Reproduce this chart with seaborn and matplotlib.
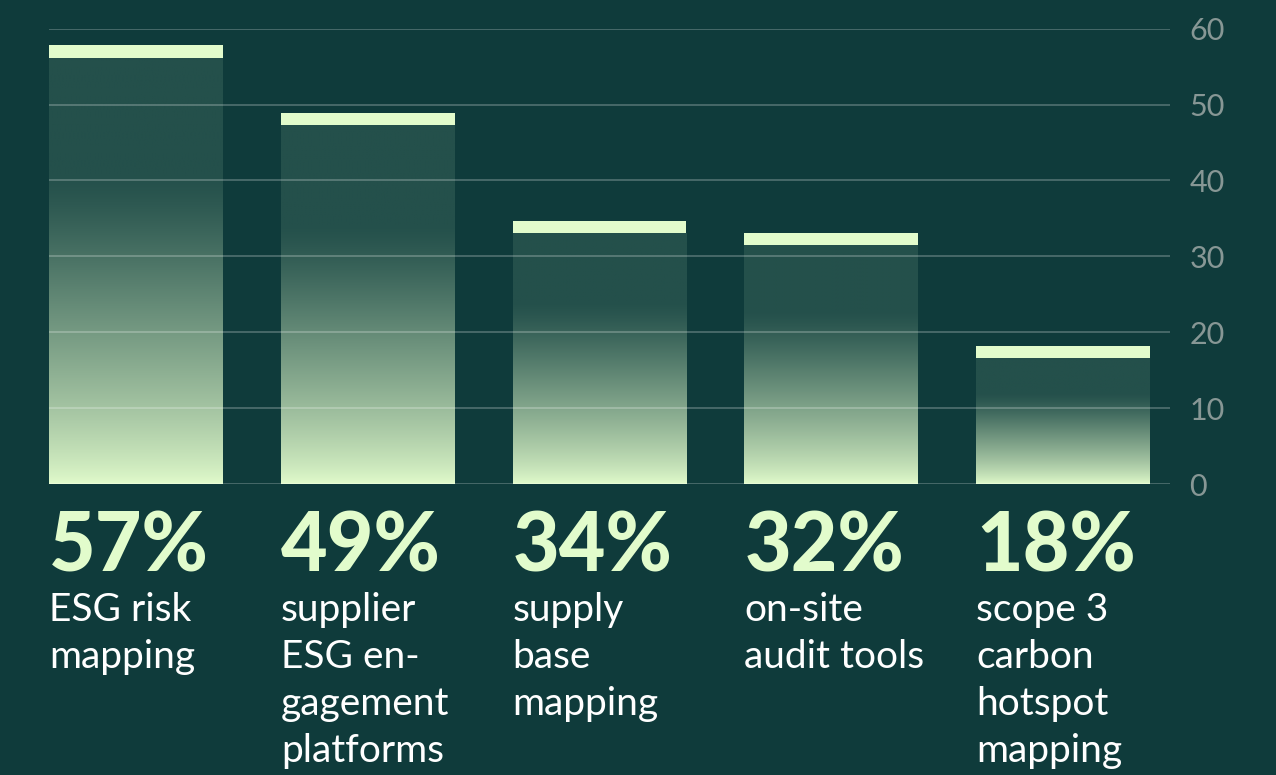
import numpy as np
import matplotlib
matplotlib.use("Agg")
import matplotlib.pyplot as plt
import matplotlib.transforms as mtrans
from matplotlib.colors import to_rgb
import seaborn as sns

categories = ["ESG risk mapping", "supplier ESG engagement platforms", "supply base mapping",
              "on-site audit tools", "scope 3 carbon hotspot mapping"]
# bar heights (cap centres), and the printed labels
values = [57.0, 48.1, 33.9, 32.3, 17.4]
pct_labels = ["57%", "49%", "34%", "32%", "18%"]
label_lines = [["ESG risk", "mapping"],
               ["supplier", "ESG en-", "gagement", "platforms"],
               ["supply", "base", "mapping"],
               ["on-site", "audit tools"],
               ["scope 3", "carbon", "hotspot", "mapping"]]
yticks = [0, 10, 20, 30, 40, 50, 60]

bg = "#0f3b3b"
dark = "#24504b"
light = "#e2fccc"
cap_h = 1.6

sns.set_theme(style="white")
plt.rcParams["font.family"] = ["Lato", "DejaVu Sans"]

fig = plt.figure(figsize=(12.76, 7.75), dpi=100, facecolor=bg)
ax = fig.add_axes([49 / 1276, 1 - 484 / 775, (1170 - 49) / 1276, (484 - 28.7) / 775])
ax.set_facecolor(bg)

sns.barplot(x=categories, y=values, width=0.75, ax=ax, color=dark)

# vertical gradient for each bar: light at the base, dark from ~2/3 up
c0 = np.array(to_rgb(light))
c1 = np.array(to_rgb(dark))
frac = np.linspace(0, 1, 300)
s = np.clip(frac / 0.72, 0, 1)
t = s ** 0.8
t = t + (1 - t) * s ** 6 * 0.5
grad = (c0[None, :] * (1 - t[:, None]) + c1[None, :] * t[:, None])[:, None, :]

for p, v in zip(ax.patches, values):
    x0, w = p.get_x(), p.get_width()
    p.set_height(v - cap_h / 2)
    p.set_facecolor("none")
    p.set_edgecolor("none")
    im = ax.imshow(grad, extent=[x0, x0 + w, 0, v - cap_h / 2], origin="lower",
                   aspect="auto", zorder=1, interpolation="bilinear")
    im.set_clip_path(p)
    # light cap on top
    ax.bar(x0 + w / 2, cap_h, bottom=v - cap_h / 2, width=w, color=light,
           linewidth=0, zorder=2)

ax.set_xlim(-0.375, 4.462)
ax.set_ylim(0, 60)
ax.set_yticks(yticks)
ax.yaxis.tick_right()
ax.tick_params(axis="y", length=0, pad=14, labelsize=22, labelcolor="#879795")
ax.tick_params(axis="x", length=0, labelbottom=False)
ax.set_xlabel("")
ax.set_ylabel("")
ax.grid(axis="y", color="white", alpha=0.25, linewidth=1.3)
ax.set_axisbelow(False)
for sp in ax.spines.values():
    sp.set_visible(False)

trans = mtrans.blended_transform_factory(ax.transData, fig.transFigure)
for i, p in enumerate(ax.patches[:len(values)]):
    x0 = p.get_x()
    ax.text(x0, 1 - 572 / 775, pct_labels[i], transform=trans, ha="left", va="baseline",
            fontsize=58, fontweight="black", color=light, clip_on=False)
    for j, line in enumerate(label_lines[i]):
        ax.text(x0, 1 - (621 + 47 * j) / 775, line, transform=trans, ha="left",
                va="baseline", fontsize=28, fontweight="normal", color="white", clip_on=False)

fig.savefig("out.png", dpi=100, facecolor=bg)
